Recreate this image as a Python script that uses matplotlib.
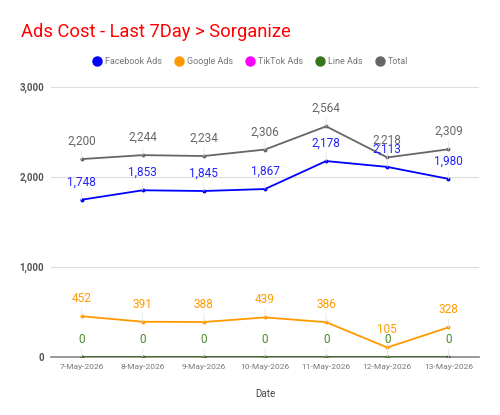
import matplotlib
matplotlib.use("Agg")
import matplotlib.pyplot as plt
from matplotlib.lines import Line2D

plt.rcParams['font.family'] = ['Roboto', 'DejaVu Sans']

# data
dates = ["7-May-2026", "8-May-2026", "9-May-2026", "10-May-2026",
         "11-May-2026", "12-May-2026", "13-May-2026"]
facebook = [1748, 1853, 1845, 1867, 2178, 2113, 1980]
google = [452, 391, 388, 439, 386, 105, 328]
tiktok = [0, 0, 0, 0, 0, 0, 0]
line_ads = [0, 0, 0, 0, 0, 0, 0]
total = [2200, 2244, 2234, 2306, 2564, 2218, 2309]

series_names = ["Facebook Ads", "Google Ads", "TikTok Ads", "Line Ads", "Total"]
colors = ["#0000ff", "#ff9900", "#ff00ff", "#38761d", "#666666"]
label_colors = ["#2222ff", "#ff9900", "#ff00ff", "#4a8a2a", "#666666"]
# tiktok labels are hidden under the line ads ones in the original
show_labels = [True, True, False, True, True]
yticks = [0, 1000, 2000, 3000]


def main():
    fig = plt.figure(figsize=(5, 4.15), dpi=100)
    ax = fig.add_axes([0.102, 0.140, 0.856, 0.650])

    x = list(range(len(dates)))
    all_series = [facebook, google, tiktok, line_ads, total]

    for i, (vals, color) in enumerate(zip(all_series, colors)):
        ax.plot(x, vals, color=color, lw=1.3, marker='o', ms=1.8, zorder=3)
        if not show_labels[i]:
            continue
        for xi, v in zip(x, vals):
            ax.annotate(f"{v:,}", xy=(xi, v), xytext=(0, 8),
                        textcoords='offset points', ha='center', va='bottom',
                        fontsize=8.5, color=label_colors[i], zorder=4,
                        arrowprops=dict(arrowstyle='-', color='#e6e6e6',
                                        lw=0.6, shrinkA=0, shrinkB=0))

    ax.set_xlim(-0.5, len(dates) - 0.5)
    ax.set_ylim(0, 3000)
    ax.set_yticks(yticks)
    ax.set_yticklabels([f"{t:,}" for t in yticks], fontsize=7,
                       color='#555555', fontweight='bold')
    ax.set_xticks(x)
    ax.set_xticklabels(dates, fontsize=6, color='#777777')
    ax.tick_params(axis='both', length=0, pad=5)
    ax.grid(axis='y', color='#dddddd', lw=0.8)
    ax.set_axisbelow(True)
    for s in ['top', 'right', 'left']:
        ax.spines[s].set_visible(False)
    ax.spines['bottom'].set_color('#888888')
    ax.spines['bottom'].set_linewidth(1.2)
    ax.set_xlabel("Date", fontsize=7, color='#444444', labelpad=14)

    fig.text(0.042, 0.923, "Ads Cost - Last 7Day > Sorganize", color='#ff0000',
             fontsize=13.2, va='center', ha='left')

    handles = [Line2D([], [], ls='none', marker='o', ms=6.5, color=c) for c in colors]
    fig.legend(handles, series_names, loc='center', bbox_to_anchor=(0.5, 0.851),
               ncol=5, frameon=False, fontsize=6.5, labelcolor='#777777',
               handletextpad=0.3, columnspacing=1.25, handlelength=1.2)

    fig.savefig("out.png", dpi=100)


if __name__ == "__main__":
    main()
